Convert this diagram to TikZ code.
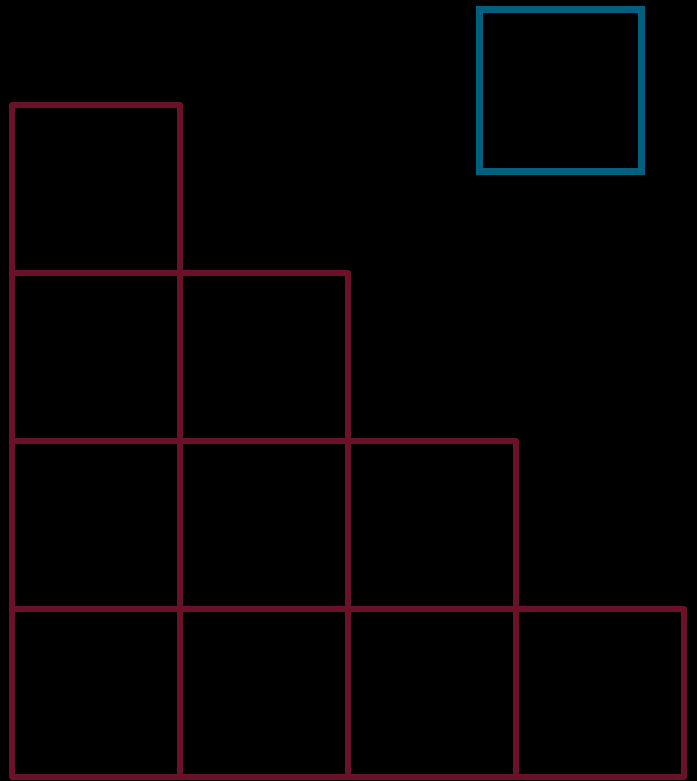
\documentclass[tikz,border=0pt]{standalone}
\usepackage{tikz}
\definecolor{cellred}{RGB}{107,17,42}
\definecolor{boxblue}{RGB}{0,96,128}

\begin{document}
\begin{tikzpicture}[x=0.5pt,y=-0.5pt,
  cell/.style={draw=cellred,line width=3pt,line join=round,minimum size=84pt,inner sep=0pt,outer sep=0pt},
  single/.style={draw=boxblue,line width=3.3pt,minimum size=81.1pt,inner sep=0pt,outer sep=0pt}]
\useasboundingbox (0,0) rectangle (697,781);
\fill[black] (0,0) rectangle (697,781);
% staircase of cells, row r holds r cells
\foreach \r in {1,...,4}
  \foreach \c in {1,...,\r}
    \node[cell] (c\r\c) at ({96.3+168*(\c-1)},{189+168*(\r-1)}) {};
\node[single] (extra) at (560.6,90.5) {};
\end{tikzpicture}
\end{document}
